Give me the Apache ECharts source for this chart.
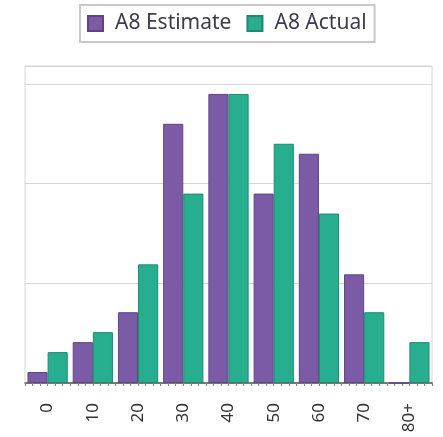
<!DOCTYPE html>
<html><head><meta charset="utf-8">
<script src="https://cdn.jsdelivr.net/npm/echarts@6/dist/echarts.min.js"></script>
<style>html,body{margin:0;padding:0;background:#fff}#c{width:443px;height:437px}</style>
</head><body><div id="c"></div>
<script>
const categories = ['0','10','20','30','40','50','60','70','80+'];
const estimate = [0.11, 0.41, 0.71, 2.6, 2.9, 1.9, 2.3, 1.09, 0.0];
const actual   = [0.31, 0.51, 1.19, 1.9, 2.9, 2.4, 1.7, 0.71, 0.41];
const seriesNames = ['A8 Estimate', 'A8 Actual'];

const chart = echarts.init(document.getElementById('c'));
chart.setOption({
  animation: false,
  legend: {
    top: 5, left: 80,
    data: seriesNames,
    itemWidth: 15, itemHeight: 15, itemGap: 15,
    icon: 'rect',
    borderColor: '#c8c8c8', borderWidth: 2,
    padding: [8, 8, 8, 7],
    textStyle: { fontFamily: 'Noto Sans', fontSize: 21, color: '#3c3c4e', padding: [0, 0, 0, 7] }
  },
  grid: { left: 25, right: 11, top: 66, bottom: 54, show: true, borderColor: '#d6d6d6', borderWidth: 1 },
  xAxis: [{
    type: 'category', data: categories,
    axisLine: { lineStyle: { color: '#555', width: 1.5 } },
    axisTick: { alignWithLabel: true, length: 8, lineStyle: { color: '#999' } },
    axisLabel: { rotate: 90, fontFamily: 'Noto Sans', fontSize: 17, fontWeight: 'normal', color: '#333', margin: 20 }
  }, {
    type: 'value', position: 'bottom', min: -0.5, max: 8.5, interval: 1/6,
    axisLine: { show: false }, splitLine: { show: false },
    axisLabel: { show: false },
    axisTick: { show: true, length: 3, lineStyle: { color: '#888' } }
  }],
  yAxis: {
    type: 'value', min: 0, max: 3.18, interval: 1,
    axisLine: { show: false }, axisTick: { show: false }, axisLabel: { show: false },
    splitLine: { lineStyle: { color: '#d6d6d6' } }
  },
  series: [{
    name: seriesNames[0], type: 'bar', data: estimate,
    barGap: '0%', barCategoryGap: '11%',
    itemStyle: { color: '#7b5ba6', borderColor: '#5d4585', borderWidth: 1 }
  }, {
    name: seriesNames[1], type: 'bar', data: actual,
    itemStyle: { color: '#27ae8e', borderColor: '#1f8a70', borderWidth: 1 }
  }]
});
</script></body></html>
